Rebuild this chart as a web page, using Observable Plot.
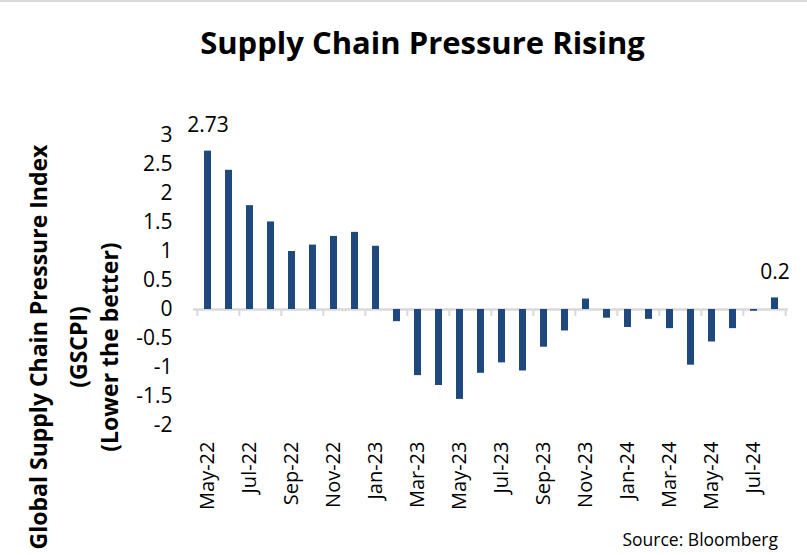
<!DOCTYPE html>
<html>
<head>
<meta charset="utf-8">
<script src="https://cdn.jsdelivr.net/npm/d3@7"></script>
<script src="https://cdn.jsdelivr.net/npm/@observablehq/plot@0.6"></script>
<style>
  html, body { margin: 0; padding: 0; background: #fff; }
  #wrap { position: relative; width: 807px; height: 555px; overflow: hidden; font-family: "Open Sans", sans-serif; color: #000; }
  #topline { position: absolute; left: 0; top: 0; width: 807px; height: 2px; background: #d9d9d9; }
  #title { position: absolute; left: 0; top: 20px; width: 845px; text-align: center; font-weight: bold; font-size: 31px; line-height: 44px; }
  .ytitle { position: absolute; width: 460px; height: 30px; line-height: 30px; text-align: center; font-weight: bold; font-size: 23px; transform: rotate(-90deg); transform-origin: center center; white-space: nowrap; }
  #source { position: absolute; right: 29px; top: 527px; font-size: 17.5px; line-height: 24px; }
  #chart { position: absolute; left: 0; top: 0; }
</style>
</head>
<body>
<div id="wrap">
  <div id="chart"></div>
  <div id="topline"></div>
  <div id="title">Supply Chain Pressure Rising</div>
  <div class="ytitle" style="left:-192px; top:332px;">Global Supply Chain Pressure Index</div>
  <div class="ytitle" style="left:-152px; top:332px;">(GSCPI)</div>
  <div class="ytitle" style="left:-121px; top:332px;">(Lower the better)</div>
  <div id="source">Source: Bloomberg</div>
</div>
<script>
const months = ["May-22","Jun-22","Jul-22","Aug-22","Sep-22","Oct-22","Nov-22","Dec-22",
  "Jan-23","Feb-23","Mar-23","Apr-23","May-23","Jun-23","Jul-23","Aug-23","Sep-23","Oct-23","Nov-23","Dec-23",
  "Jan-24","Feb-24","Mar-24","Apr-24","May-24","Jun-24","Jul-24","Aug-24"];
const values = [2.73, 2.40, 1.79, 1.51, 1.00, 1.11, 1.26, 1.33,
  1.09, -0.21, -1.14, -1.31, -1.55, -1.10, -0.92, -1.06, -0.65, -0.37, 0.18, -0.15,
  -0.31, -0.17, -0.33, -0.96, -0.56, -0.33, -0.03, 0.20];
const yTicks = [-2, -1.5, -1, -0.5, 0, 0.5, 1, 1.5, 2, 2.5, 3];
const xTickLabels = months.filter((m, i) => i % 2 === 0);
const labeledMonths = ["May-22", "Aug-24"];
const labeledText = ["2.73", "0.2"];

const data = months.map((m, i) => ({month: m, value: values[i]}));
const labels = labeledMonths.map((m, i) => ({month: m, value: values[months.indexOf(m)], text: labeledText[i]}));

const W = 807, H = 555, mL = 193, mR = 19, mT = 135, mB = 130;
const step = (W - mL - mR) / months.length;
const pxPerUnit = (H - mT - mB) / (3 - (-2));
const tickLen = 7 / pxPerUnit;

const chart = Plot.plot({
  width: W, height: H,
  marginLeft: mL, marginRight: mR, marginTop: mT, marginBottom: mB,
  style: {fontFamily: "Open Sans, sans-serif", fontSize: "18px", color: "#000", background: "transparent"},
  x: {type: "band", domain: months, paddingInner: 0.67, paddingOuter: 0.335},
  y: {domain: [-2, 3]},
  marks: [
    Plot.ruleX(xTickLabels, {x: d => d, y1: 0, y2: -tickLen, dx: -step / 2, stroke: "#d9d9d9", strokeWidth: 2}),
    Plot.ruleX([months[months.length - 1]], {x: d => d, y1: 0, y2: -tickLen, dx: step / 2, stroke: "#d9d9d9", strokeWidth: 2}),
    Plot.ruleY([0], {stroke: "#d9d9d9", strokeWidth: 2.5}),
    Plot.barY(data, {x: "month", y: "value", fill: "#1f497d"}),
    Plot.text(labels, {x: "month", y: "value", text: "text", dy: -26, fontSize: 21, fill: "#000"}),
    Plot.axisY({ticks: yTicks, tickSize: 0, tickPadding: 21, tickFormat: d => String(d), fontSize: 21, label: null}),
    Plot.axisX({ticks: xTickLabels, tickSize: 0, tickPadding: 16, tickRotate: -90, fontSize: 20, label: null})
  ]
});
document.getElementById("chart").appendChild(chart);
</script>
</body>
</html>
